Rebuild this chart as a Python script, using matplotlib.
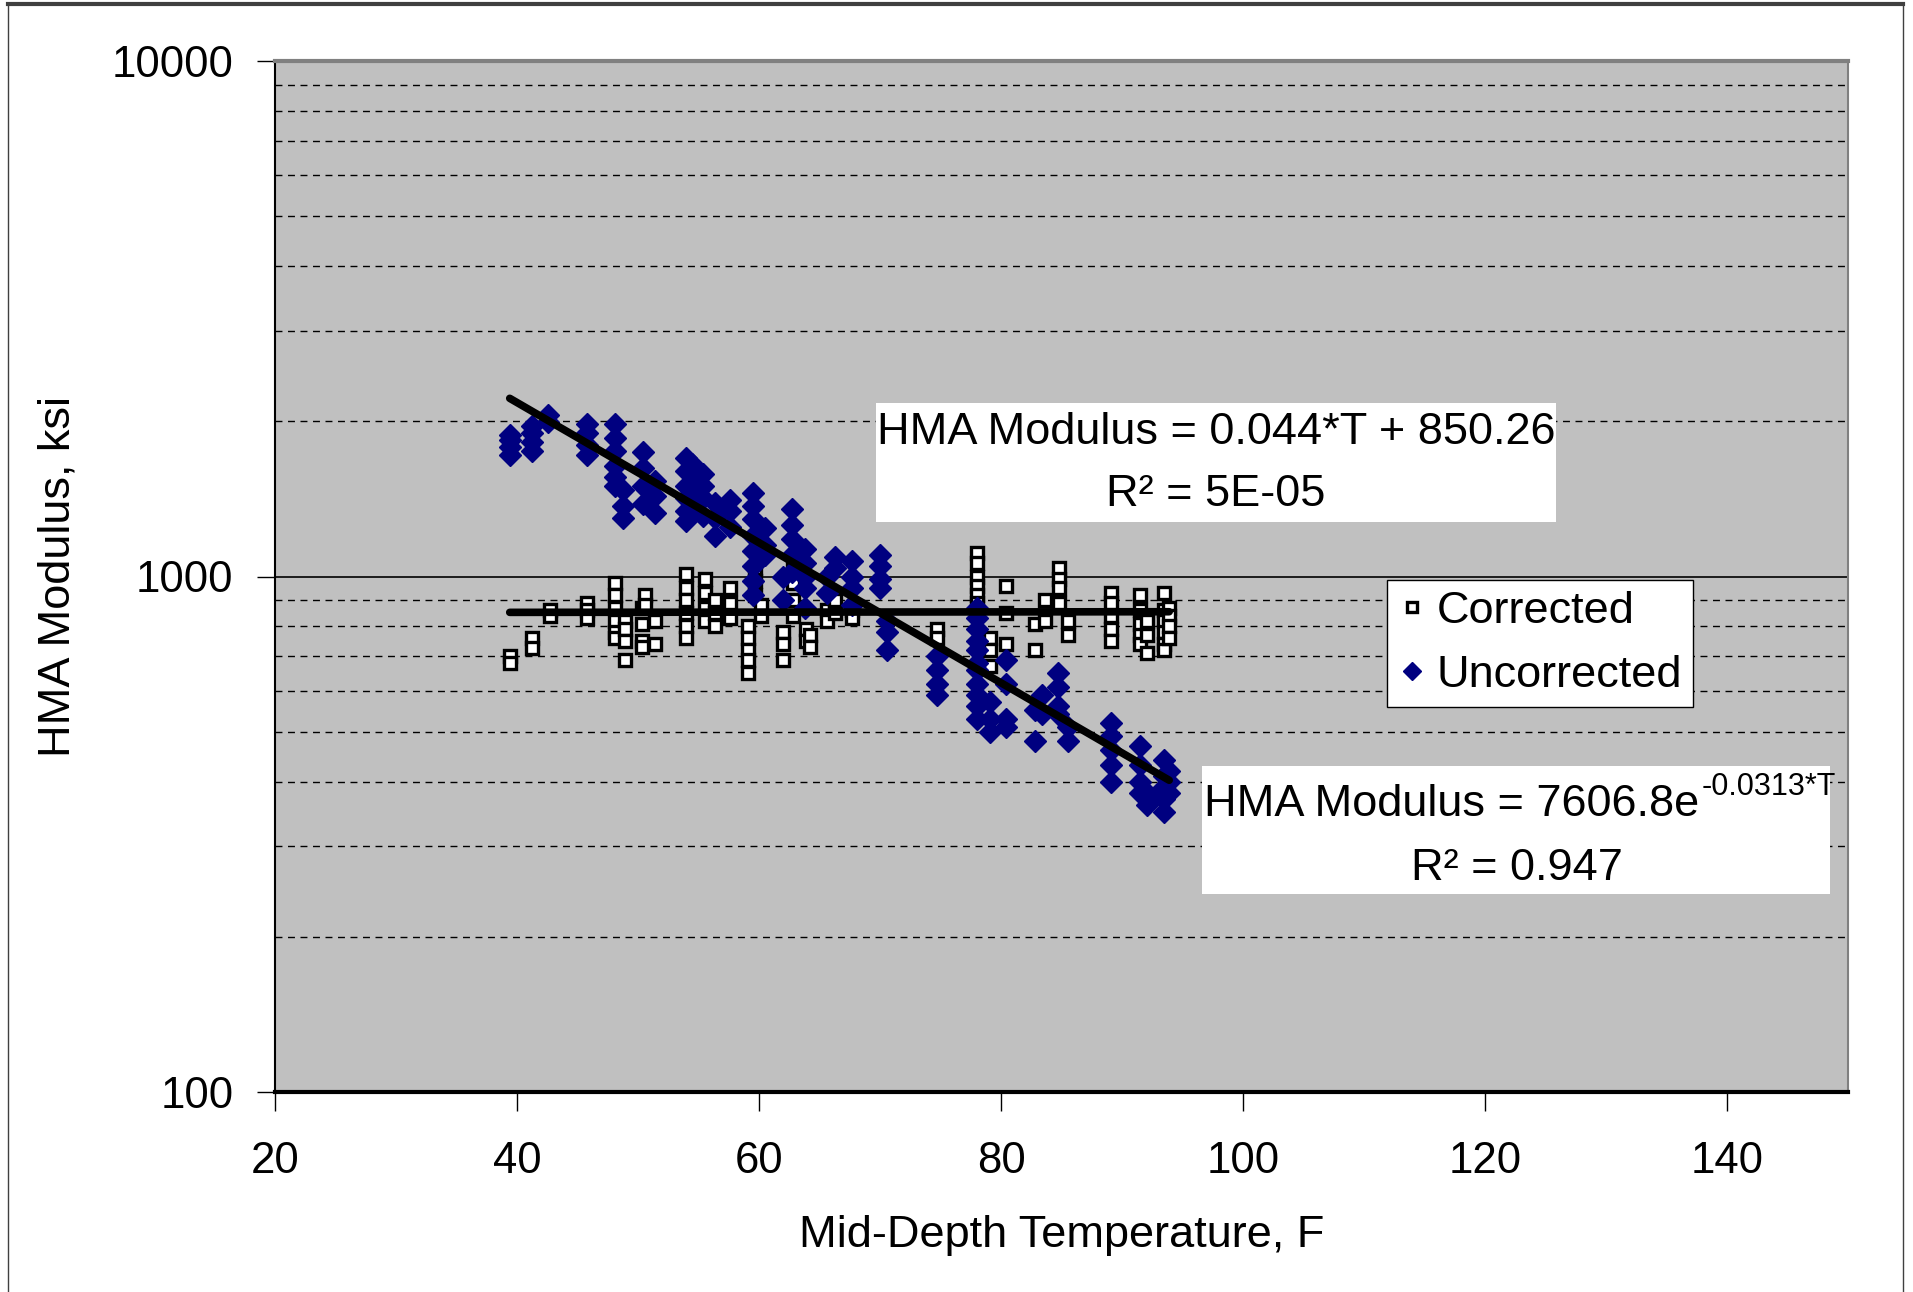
import numpy as np
import matplotlib
matplotlib.use("Agg")
import matplotlib.pyplot as plt
from matplotlib.lines import Line2D
from matplotlib.patches import Rectangle
from matplotlib.ticker import FixedLocator, NullFormatter

plt.rcParams['font.family'] = ['Liberation Sans', 'DejaVu Sans']

# ---- data (temperature F, modulus ksi) ----
corr_t = [39.4, 39.4, 41.2, 41.2, 42.7, 42.7, 45.8, 45.8, 45.8,
          48.1, 48.1, 48.1, 48.1, 48.1, 48.1, 48.9, 48.9, 48.9, 48.9,
          50.3, 50.3, 50.3, 50.3, 50.6, 50.6, 51.4, 51.4,
          54.0, 54.0, 54.0, 54.0, 54.0, 54.0, 55.5, 55.5, 55.5, 55.5,
          56.4, 56.4, 56.4, 57.6, 57.6, 57.6, 59.1, 59.1, 59.1, 59.1, 59.1,
          59.7, 59.7, 59.7, 60.2, 60.2, 62.0, 62.0, 62.0, 62.8, 62.8, 62.8, 62.8,
          63.9, 63.9, 64.2, 64.2, 65.6, 65.6, 66.3, 66.3, 67.7, 67.7,
          74.7, 74.7, 78.0, 78.0, 78.0, 78.0, 78.0, 78.0, 79.1, 79.1, 79.1,
          80.4, 80.4, 80.4, 82.8, 82.8, 83.6, 83.6, 84.8, 84.8, 84.8, 84.8,
          85.5, 85.5, 89.1, 89.1, 89.1, 89.1, 89.1, 91.5, 91.5, 91.5, 91.5, 91.5,
          92.1, 92.1, 92.1, 93.5, 93.5, 93.5, 93.5, 93.5, 93.5, 93.9, 93.9, 93.9, 93.9]
corr_e = [700, 680, 760, 725, 860, 840, 890, 860, 830,
          970, 920, 870, 820, 780, 760, 820, 790, 750, 690,
          870, 810, 750, 730, 920, 880, 820, 740,
          1010, 950, 900, 850, 800, 760, 990, 930, 870, 820,
          900, 850, 800, 950, 890, 830, 800, 760, 720, 690, 650,
          1040, 980, 920, 880, 840, 780, 740, 690, 1040, 970, 900, 840,
          790, 750, 770, 730, 860, 820, 900, 850, 860, 830,
          790, 760, 1110, 1060, 1000, 960, 920, 890, 760, 720, 670,
          960, 850, 740, 810, 720, 900, 820, 1040, 990, 950, 890,
          820, 770, 930, 890, 840, 790, 750, 920, 860, 810, 770, 740,
          820, 770, 710, 930, 860, 820, 780, 740, 720, 870, 840, 800, 760]

unc_t = [39.4, 39.4, 39.4, 39.4, 41.2, 41.2, 41.2, 41.2, 42.6, 42.6,
         45.8, 45.8, 45.8, 45.8, 48.1, 48.1, 48.1, 48.1, 48.1, 48.1,
         48.8, 48.8, 48.8, 50.4, 50.4, 50.4, 50.4, 51.4, 51.4, 51.4,
         54.0, 54.0, 54.0, 54.0, 54.0, 54.0, 54.5, 54.5, 54.5,
         55.4, 55.4, 55.4, 55.4, 56.4, 56.4, 56.4, 57.6, 57.6, 57.6,
         59.5, 59.5, 59.5, 59.5, 59.5, 59.5, 59.5, 59.5, 60.5, 60.5, 60.5,
         62.0, 62.0, 62.7, 62.7, 62.7, 62.7, 62.7, 63.8, 63.8, 63.8, 63.8, 63.8,
         65.6, 65.6, 66.3, 66.3, 67.7, 67.7, 67.7, 67.7, 70.0, 70.0, 70.0, 70.0,
         70.6, 70.6, 70.6, 74.7, 74.7, 74.7, 74.7,
         78.0, 78.0, 78.0, 78.0, 78.0, 78.0, 78.0, 78.0, 78.0, 78.0, 78.0,
         79.1, 79.1, 79.1, 80.4, 80.4, 80.4, 80.4, 82.8, 82.8, 83.4, 83.4,
         84.7, 84.7, 84.7, 84.7, 85.5, 85.5, 89.1, 89.1, 89.1, 89.1, 89.1,
         91.5, 91.5, 91.5, 91.5, 92.1, 92.1, 93.5, 93.5, 93.5, 93.5, 93.5,
         93.9, 93.9, 93.9]
unc_e = [1720, 1780, 1840, 1880, 1750, 1820, 1900, 1960, 1990, 2060,
         1720, 1800, 1900, 1980, 1980, 1860, 1750, 1640, 1560, 1500,
         1470, 1370, 1300, 1740, 1620, 1500, 1380, 1530, 1430, 1330,
         1700, 1600, 1500, 1420, 1340, 1280, 1650, 1500, 1350,
         1580, 1500, 1420, 1310, 1390, 1300, 1200, 1410, 1340, 1250,
         1450, 1370, 1290, 1200, 1120, 1050, 980, 920, 1240, 1150, 1100,
         1000, 900, 1350, 1260, 1180, 1100, 1020, 1130, 1060, 1000, 950, 870,
         1000, 930, 1090, 1040, 1070, 1000, 950, 880, 1100, 1050, 990, 950,
         820, 780, 720, 700, 660, 620, 590,
         870, 830, 790, 750, 720, 680, 660, 620, 590, 560, 530,
         570, 530, 500, 690, 620, 530, 510, 550, 480, 590, 540,
         650, 610, 560, 540, 510, 480, 520, 490, 460, 430, 400,
         470, 430, 400, 380, 380, 360, 440, 410, 390, 370, 350,
         420, 400, 380]

# trendline coefficients as printed on the chart
lin_slope, lin_icpt = 0.044, 850.26
exp_a, exp_b = 7606.8, -0.0313

x_ticks = [20, 40, 60, 80, 100, 120, 140]
y_ticks = [100, 1000, 10000]

FS = 32.5
W, H = 1913, 1292
fig = plt.figure(figsize=(W / 100, H / 100), dpi=100)
ax = fig.add_axes([275 / W, 1 - 1092 / H, (1848 - 275) / W, (1092 - 61) / H])
ax.set_facecolor('#c0c0c0')

# gridlines
minor = [m * d for d in (100, 1000) for m in range(2, 10)]
for v in minor:
    ax.axhline(v, color='black', lw=1.0, ls=(0, (5, 4)), zorder=1)
ax.axhline(1000, color='black', lw=1.2, zorder=1)

ax.plot(corr_t, corr_e, ls='none', marker='s', ms=8.5, mfc='white', mec='black',
        mew=2.4, label='Corrected', zorder=3)
ax.plot(unc_t, unc_e, ls='none', marker='D', ms=11.5, mfc='#000080', mec='#000080',
        label='Uncorrected', zorder=3)

tt = np.array([min(unc_t), max(unc_t)])
tline = np.linspace(tt[0], tt[1], 50)
ax.plot(tt, lin_slope * tt + lin_icpt, color='black', lw=5.5, zorder=4,
        solid_capstyle='round')
ax.plot(tline, exp_a * np.exp(exp_b * tline), color='black', lw=5.5, zorder=4,
        solid_capstyle='round')

ax.set_yscale('log')
ax.set_xlim(20, 150)
ax.set_ylim(100, 10000)
ax.xaxis.set_major_locator(FixedLocator(x_ticks))
ax.yaxis.set_major_locator(FixedLocator(y_ticks))
ax.yaxis.set_minor_formatter(NullFormatter())
ax.yaxis.set_minor_locator(FixedLocator([]))
ax.set_yticklabels([str(v) for v in y_ticks])
ax.tick_params(axis='x', length=14, width=1, pad=21, labelsize=31.5, direction='out')
ax.tick_params(axis='y', length=13, width=1, pad=17, labelsize=31.5, direction='out')

ax.set_xlabel('Mid-Depth Temperature, F', fontsize=FS, labelpad=24)
ax.set_ylabel('HMA Modulus, ksi', fontsize=FS, labelpad=24)

ax.spines['top'].set_color('#808080')
ax.spines['top'].set_linewidth(3)
ax.spines['right'].set_color('#808080')
ax.spines['right'].set_linewidth(1.5)
ax.spines['left'].set_linewidth(1.5)
ax.spines['bottom'].set_linewidth(3)

leg = ax.legend(loc='upper left', bbox_to_anchor=(1387 / W, 1 - 580 / H),
                bbox_transform=fig.transFigure, fontsize=FS, frameon=True,
                fancybox=False, edgecolor='black', framealpha=1,
                handlelength=0.6, handletextpad=0.25, labelspacing=0.5,
                borderpad=0.25, borderaxespad=0, markerscale=0.8)
leg.get_frame().set_linewidth(1)

# equation boxes
fig.add_artist(Rectangle((876 / W, 1 - 522 / H), 680 / W, 119 / H,
                         facecolor='white', edgecolor='none', zorder=5))
fig.text(1216 / W, 1 - 433 / H, f'HMA Modulus = {lin_slope}*T + {lin_icpt}',
         fontsize=FS, ha='center', va='center', zorder=6)
fig.text(1216 / W, 1 - 494 / H, 'R\u00b2 = 5E-05', fontsize=FS,
         ha='center', va='center', zorder=6)

fig.add_artist(Rectangle((1202 / W, 1 - 894 / H), 628 / W, 128 / H,
                         facecolor='white', edgecolor='none', zorder=5))
t1 = fig.text(1204 / W, 1 - 805 / H, f'HMA Modulus = {exp_a}e', fontsize=FS,
              ha='left', va='center', zorder=6)
fig.canvas.draw()
bb = t1.get_window_extent()
fig.text(bb.x1 / W + 0.001, 1 - 787 / H, f'{exp_b}*T', fontsize=22,
         ha='left', va='center', zorder=6)
fig.text(1517 / W, 1 - 869 / H, 'R\u00b2 = 0.947', fontsize=FS,
         ha='center', va='center', zorder=6)

# outer chart frame
fig.add_artist(Line2D([8 / W, 1903 / W], [1 - 4 / H, 1 - 4 / H], color='#404040', lw=3))
fig.add_artist(Line2D([8 / W, 8 / W], [0, 1 - 4 / H], color='#404040', lw=1))
fig.add_artist(Line2D([1903 / W, 1903 / W], [0, 1 - 4 / H], color='#404040', lw=1))

fig.savefig('out.png', dpi=100, facecolor='white')
